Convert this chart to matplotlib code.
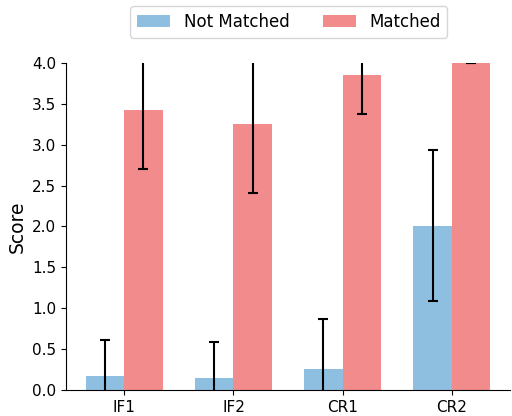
import numpy as np
import matplotlib.pyplot as plt

# Дані
categories = ['IF1', 'IF2', 'CR1', 'CR2']
not_matched = [0.17, 0.15, 0.26, 2.01]
not_matched_err = [0.44, 0.44, 0.61, 0.92]
matched = [3.42, 3.25, 3.85, 4.00]
matched_err = [0.72, 0.84, 0.47, 0.0]

x = np.arange(len(categories))
width = 0.35

fig = plt.figure(figsize=(5.12, 4.16), dpi=100)
ax = fig.add_axes([0.129, 0.0625, 0.867, 0.7865])

ax.bar(x - width / 2, not_matched, width, yerr=not_matched_err, capsize=3.6,
       color='#8fbfe0', label='Not Matched', error_kw=dict(elinewidth=1.5, capthick=1.5))
ax.bar(x + width / 2, matched, width, yerr=matched_err, capsize=3.6,
       color='#f28b8c', label='Matched', error_kw=dict(elinewidth=1.5, capthick=1.5))

ax.set_ylim(0, 4)
ax.set_xticks(x)
ax.set_xticklabels(categories)
ax.set_yticks(np.arange(0, 4.01, 0.5))
ax.tick_params(labelsize=11)
ax.set_ylabel('Score', fontsize=13.5)

ax.spines['top'].set_visible(False)
ax.spines['right'].set_visible(False)

fig.legend(loc='upper center', bbox_to_anchor=(0.564, 1.005), ncol=2, fontsize=12,
           columnspacing=2.0)

fig.savefig('out.png', dpi=100)
